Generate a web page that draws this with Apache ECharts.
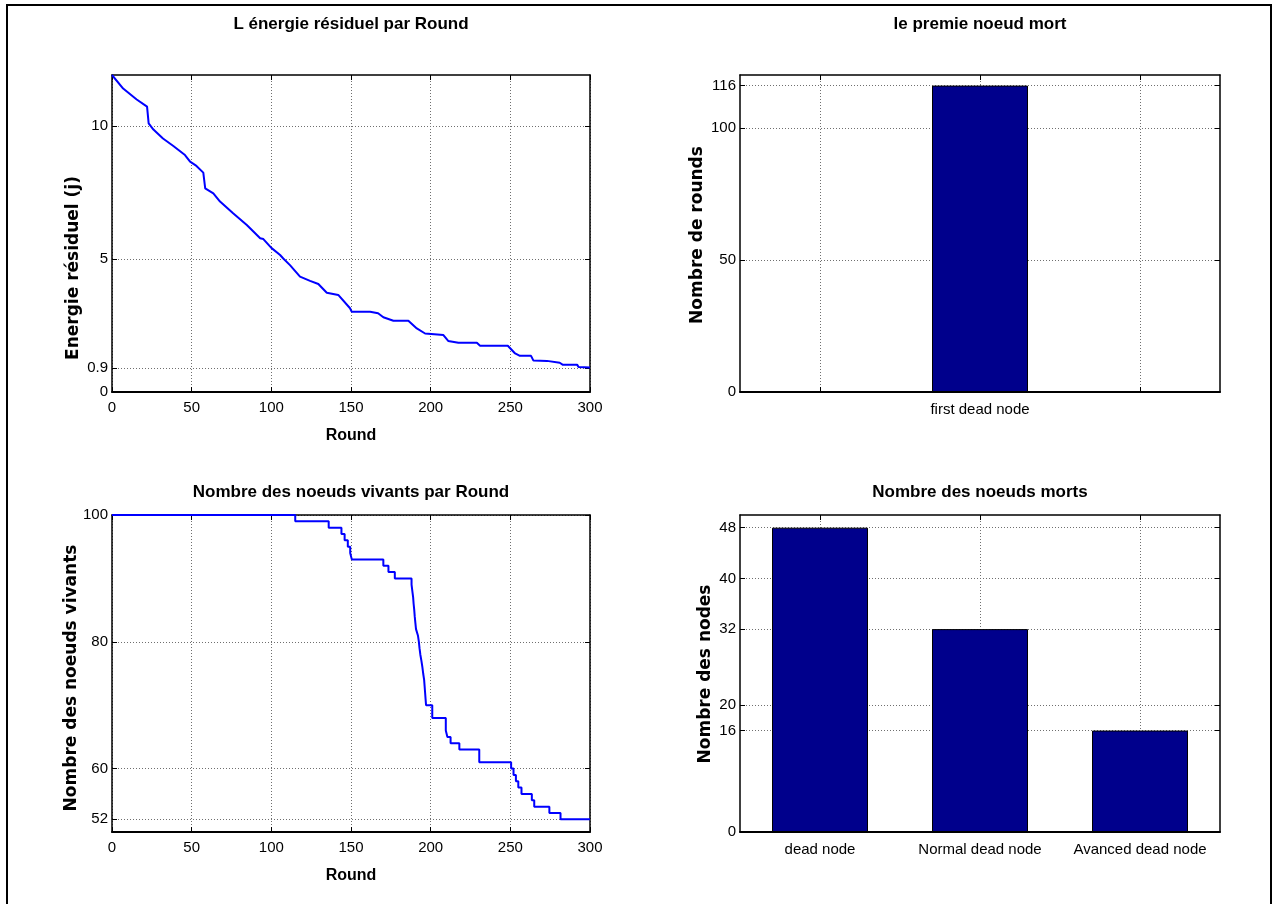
<!DOCTYPE html>
<html>
<head>
<meta charset="utf-8">
<script src="https://cdn.jsdelivr.net/npm/echarts@6/dist/echarts.min.js"></script>
<style>
  html, body { margin: 0; padding: 0; background: #fff; }
  #chart { width: 1278px; height: 904px; }
</style>
</head>
<body>
<div id="chart"></div>
<script>
// energie residuelle par round
const energyRounds = [0, 7, 15.5, 22, 23, 26, 32, 38.5, 45.8, 49, 53, 57.3, 58.5, 63.6, 67.8, 76, 84.6, 93, 95, 100,
  105.5, 107.5, 111.7, 118, 124.3, 129.5, 134.8, 142, 149.4, 150.4, 162, 167, 170.3, 176.6, 186, 191.3, 196.5,
  208, 211, 217.4, 229, 231, 248.4, 253, 256, 263, 264.5, 273, 274, 281, 283, 292, 292.8, 300];
const energyValues = [11.92, 11.41, 11.0, 10.73, 10.1, 9.87, 9.53, 9.25, 8.91, 8.66, 8.5, 8.25, 7.66, 7.47, 7.16, 6.72, 6.28, 5.78, 5.75, 5.42,
  5.15, 5.02, 4.77, 4.34, 4.18, 4.06, 3.73, 3.65, 3.15, 3.02, 3.02, 2.96, 2.81, 2.68, 2.68, 2.39, 2.2,
  2.14, 1.92, 1.85, 1.85, 1.74, 1.74, 1.45, 1.36, 1.36, 1.18, 1.17, 1.1, 1.1, 1.02, 1.02, 0.94, 0.92];

// noeuds vivants par round (marches)
const aliveRounds = [0, 115, 136, 144, 146, 148, 149.5, 150.5, 170.3, 173.5, 177.5,
  188, 188.5, 189, 189.3, 189.7, 190, 190.4, 190.8, 192, 192.6, 193, 193.5, 194.2, 194.8, 195.3, 195.9, 196.2, 196.5, 196.8, 197.1,
  201, 209.5, 210.5, 212.5, 218, 230.5, 250.5, 252, 253.5, 255, 257, 263.5, 265, 274.5, 281.5, 300];
const aliveValues = [100, 99, 98, 97, 96, 95, 94, 93, 92, 91, 90,
  89, 88, 87, 86, 85, 84, 83, 82, 81, 80, 79, 78, 77, 76, 75, 74, 73, 72, 71, 70,
  68, 66, 65, 64, 63, 61, 60, 59, 58, 57, 56, 55, 54, 53, 52, 52];

const roundTicks = [0, 50, 100, 150, 200, 250, 300];
const energyTicks = [0, 0.9, 5, 10];
const aliveTicks = [52, 60, 80, 100];

// premier noeud mort
const firstDeadCategories = ['first dead node'];
const firstDeadValues = [116];
const firstDeadTicks = [0, 50, 100, 116];
const firstDeadXTicks = [0.6, 1, 1.4];

// noeuds morts
const deadCategories = ['dead node', 'Normal dead node', 'Avanced dead node'];
const deadValues = [48, 32, 16];
const deadTicks = [0, 16, 20, 32, 40, 48];

const FONT = '"Liberation Sans", Arial, sans-serif';
const NAME_FONT = '"DejaVu Sans", "Liberation Sans", sans-serif';

const gridLine = { show: true, lineStyle: { color: '#6f6f6f', width: 1, type: [1, 2] } };

// axe principal (bas / gauche) + axe miroir (haut / droite) comme une boite matlab
function makeAxes(gridIndex, dim, min, max, ticks, extra) {
  const main = Object.assign({
    type: 'value',
    gridIndex: gridIndex,
    position: dim === 'x' ? 'bottom' : 'left',
    min: min,
    max: max,
    axisLine: { show: true, onZero: false, lineStyle: { color: '#000', width: dim === 'x' ? 2 : 1.5 } },
    axisTick: { show: true, inside: true, length: 5, customValues: ticks, lineStyle: { color: '#000' } },
    axisLabel: {
      show: true, customValues: ticks, color: '#000', fontSize: 15, fontFamily: FONT,
      margin: dim === 'x' ? 8 : 4
    },
    splitLine: gridLine
  }, extra || {});
  const mirror = {
    type: 'value',
    gridIndex: gridIndex,
    position: dim === 'x' ? 'top' : 'right',
    min: min,
    max: max,
    axisLine: { show: true, onZero: false, lineStyle: { color: '#000', width: 1.5 } },
    axisTick: { show: true, inside: true, length: 5, customValues: ticks, lineStyle: { color: '#000' } },
    axisLabel: { show: false },
    splitLine: { show: false }
  };
  return [main, mirror];
}

function getOption() {
  const grids = [
    { left: 112, top: 75, width: 478, height: 317 },
    { left: 740, top: 75, width: 480, height: 317 },
    { left: 112, top: 515, width: 478, height: 317 },
    { left: 740, top: 515, width: 480, height: 317 }
  ];

  const xAxes = []
    .concat(makeAxes(0, 'x', 0, 300, roundTicks))
    .concat(makeAxes(1, 'x', 0.4, 1.6, firstDeadXTicks, {
      axisLabel: {
        show: true, customValues: [1], color: '#000', fontSize: 15, fontFamily: FONT, margin: 10,
        formatter: function (v) { return firstDeadCategories[Math.round(v) - 1]; }
      }
    }))
    .concat(makeAxes(2, 'x', 0, 300, roundTicks))
    .concat(makeAxes(3, 'x', 0.5, 3.5, [1, 2, 3], {
      axisLabel: {
        show: true, customValues: [1, 2, 3], color: '#000', fontSize: 15, fontFamily: FONT, margin: 10,
        formatter: function (v) { return deadCategories[Math.round(v) - 1]; }
      }
    }));

  // noms des axes x
  xAxes[0].name = 'Round';
  xAxes[4].name = 'Round';
  [0, 4].forEach(function (i) {
    xAxes[i].nameLocation = 'middle';
    xAxes[i].nameGap = 36;
    xAxes[i].nameTextStyle = { color: '#000', fontSize: 16, fontWeight: 'bold', fontFamily: FONT };
  });

  const yAxes = []
    .concat(makeAxes(0, 'y', 0, 11.92, energyTicks))
    .concat(makeAxes(1, 'y', 0, 120, firstDeadTicks))
    .concat(makeAxes(2, 'y', 50, 100, aliveTicks))
    .concat(makeAxes(3, 'y', 0, 50, deadTicks));

  const titleStyle = { color: '#000', fontSize: 17, fontWeight: 'bold', fontFamily: FONT };
  const titles = [
    { text: 'L énergie résiduel par Round', left: 351, top: 16 },
    { text: 'le premie noeud mort', left: 980, top: 16 },
    { text: 'Nombre des noeuds vivants par Round', left: 351, top: 484 },
    { text: 'Nombre des noeuds morts', left: 980, top: 484 }
  ].map(function (t) {
    return Object.assign(t, { textAlign: 'center', padding: 0, textStyle: titleStyle });
  });

  function yName(text, x, y) {
    return {
      type: 'text', x: x, y: y, rotation: Math.PI / 2, silent: true,
      style: {
        text: text, fill: '#000', align: 'center', verticalAlign: 'middle',
        font: 'bold 17px ' + NAME_FONT
      }
    };
  }

  return {
    animation: false,
    backgroundColor: '#fff',
    title: titles,
    grid: grids,
    xAxis: xAxes,
    yAxis: yAxes,
    graphic: [
      { type: 'rect', shape: { x: 7, y: 5, width: 1264, height: 905 }, style: { fill: 'none', stroke: '#000', lineWidth: 2 }, silent: true },
      yName('Energie résiduel (j)', 74, 268),
      yName('Nombre de rounds', 698, 235),
      yName('Nombre des noeuds vivants', 72, 678),
      yName('Nombre des nodes', 706, 674)
    ],
    series: [
      {
        type: 'line', xAxisIndex: 0, yAxisIndex: 0, showSymbol: false,
        lineStyle: { color: '#0000ff', width: 2 },
        data: energyRounds.map(function (r, i) { return [r, energyValues[i]]; })
      },
      {
        type: 'bar', xAxisIndex: 2, yAxisIndex: 2, barWidth: 96,
        itemStyle: { color: '#00008c', borderColor: '#000', borderWidth: 1 },
        data: firstDeadValues.map(function (v, i) { return [i + 1, v]; })
      },
      {
        type: 'line', xAxisIndex: 4, yAxisIndex: 4, showSymbol: false, step: 'end',
        lineStyle: { color: '#0000ff', width: 2 },
        data: aliveRounds.map(function (r, i) { return [r, aliveValues[i]]; })
      },
      {
        type: 'bar', xAxisIndex: 6, yAxisIndex: 6, barWidth: 96,
        itemStyle: { color: '#00008c', borderColor: '#000', borderWidth: 1 },
        data: deadValues.map(function (v, i) { return [i + 1, v]; })
      }
    ]
  };
}

const myChart = echarts.init(document.getElementById('chart'));
myChart.setOption(getOption());
</script>
</body>
</html>
